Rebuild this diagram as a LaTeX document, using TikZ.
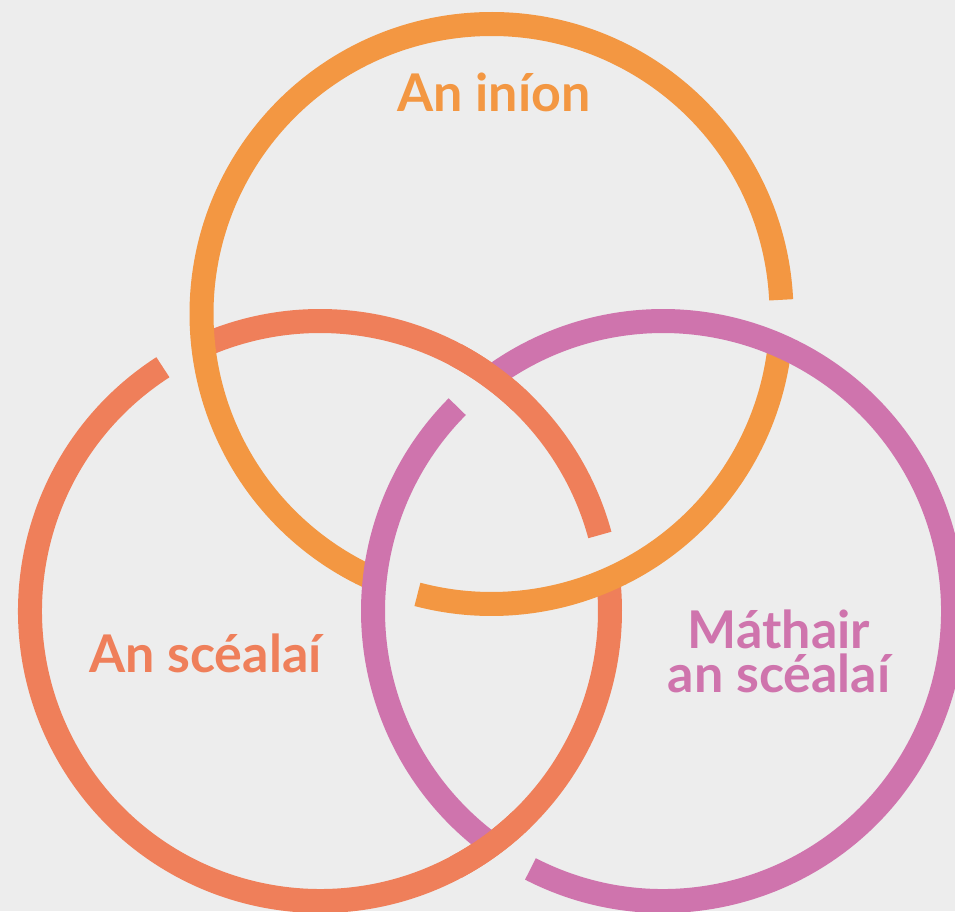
\documentclass[tikz,border=0pt]{standalone}
\usepackage{fontspec}
\setmainfont{Lato}
\definecolor{bggray}{HTML}{EDEDED}
\definecolor{inioncol}{HTML}{F39742}
\definecolor{scealaicol}{HTML}{EF7F5A}
\definecolor{mathaircol}{HTML}{CF74AD}

\begin{document}
\begin{tikzpicture}[x=1pt,y=1pt,ring/.style={line width=24pt,line cap=butt}]
	\useasboundingbox (0,0) rectangle (955,911);
	\fill[bggray] (0,0) rectangle (955,911);
	\clip (0,0) rectangle (955,911);

	\coordinate (O) at (491.5,597);
	\coordinate (C) at (320,300);
	\coordinate (P) at (663,300);

	\begin{scope}[ring]
		\draw[scealaicol] (C) ++(15.2:290) arc (15.2:113.8:290);
		\draw[scealaicol] (C) ++(122.8:290) arc (122.8:366.2:290);
		\draw[inioncol] (O) ++(2.8:290) arc (2.8:246.2:290);
		\draw[inioncol] (O) ++(255.2:290) arc (255.2:353.8:290);
		\draw[mathaircol] (P) ++(242.8:290) arc (242.8:486.2:290);
		\draw[mathaircol] (P) ++(135.2:290) arc (135.2:233.8:290);
		\draw[scealaicol] (C) ++(46:290) arc (46:62:290);
		\draw[scealaicol] (C) ++(298:290) arc (298:314:290);
	\end{scope}

	\begin{scope}[every node/.style={font=\fontsize{52}{44}\selectfont\bfseries,align=center,anchor=base}]
		\node[text=inioncol] (inion) at (494,799) {An iníon};
		\node[text=scealaicol] (scealai) at (205.5,239) {An scéalaí};
		\node[text=mathaircol] (mathair) at (779,219) {Máthair\\an scéalaí};
	\end{scope}
\end{tikzpicture}
\end{document}
